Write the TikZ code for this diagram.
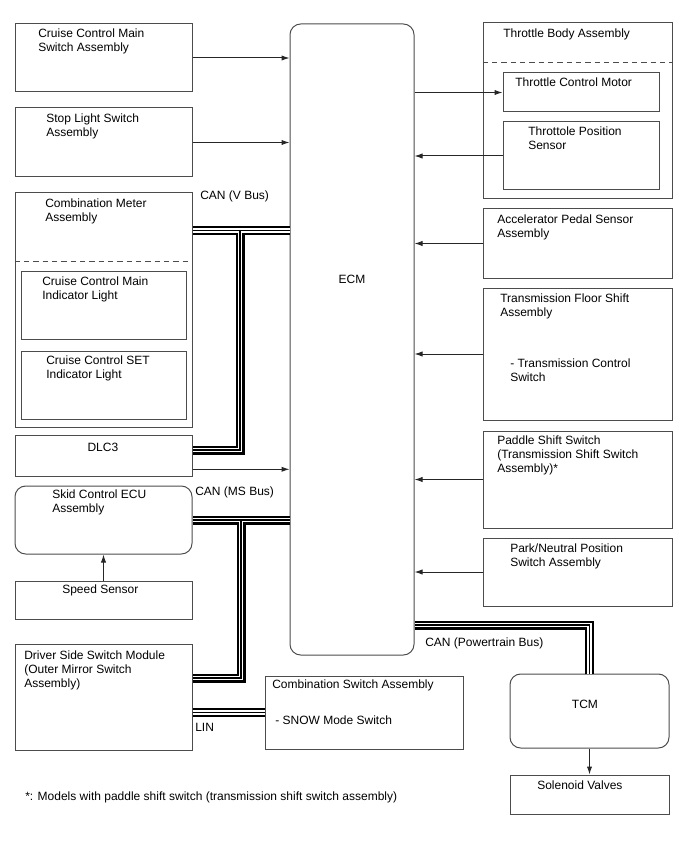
\documentclass[tikz,border=0pt]{standalone}
\usepackage{fontspec}
\setmainfont{Liberation Sans}
\usetikzlibrary{arrows.meta,fit}
\begin{document}
\begin{tikzpicture}[x=0.75pt,y=-0.75pt,
  box/.style={draw=black!70,line width=0.75pt,inner sep=0pt},
  rbox/.style={box,rounded corners=8pt},
  txt/.style={inner sep=0pt,anchor=north west,align=left,font=\fontsize{9}{10.5}\selectfont},
  arr/.style={draw=black!85,line width=0.75pt,-{Latex[length=6pt,width=4pt]}},
  dsh/.style={draw=black!70,line width=0.75pt,dash pattern=on 4pt off 3pt},
  cabA/.style={draw=black,line width=6.75pt,line join=miter},
  cabB/.style={draw=white,line width=3.6pt,line join=miter},
  cabC/.style={draw=black,line width=0.9pt,line join=miter}]
\useasboundingbox (0,0) rectangle (688,852);
% boxes
\node[box,fit={(15,24)(192,92)}] (ccm) {};
\node[box,fit={(15,108)(192,177)}] (stop) {};
\node[box,fit={(15,193)(192,427)}] (cm) {};
\node[box,fit={(21,271)(186,339)}] (cmi) {};
\node[box,fit={(21,351)(186,419)}] (csi) {};
\node[box,fit={(15,435)(192,476)}] (dlc) {};
\node[rbox,fit={(15,486)(192,554)}] (skid) {};
\node[box,fit={(15,581)(192,619)}] (spd) {};
\node[box,fit={(15,644)(192,750)}] (dss) {};
\node[box,fit={(265,676)(463,749)}] (csw) {};
\node[rbox,fit={(290,24)(414,655)}] (ecm) {};
\node[box,fit={(483,23)(672,199)}] (tba) {};
\node[box,fit={(503,73)(659,112)}] (tcmot) {};
\node[box,fit={(503,122)(659,190)}] (tps) {};
\node[box,fit={(483,209)(672,278)}] (aps) {};
\node[box,fit={(483,288)(672,420)}] (tfs) {};
\node[box,fit={(483,431)(672,528)}] (pss) {};
\node[box,fit={(483,538)(672,606)}] (pnp) {};
\node[rbox,fit={(510,674)(669,748)}] (tcm) {};
\node[box,fit={(510,775)(669,814)}] (sol) {};
% dashed separators
\draw[dsh] (cm.west |- 0,261) -- (cm.east |- 0,261);
\draw[dsh] (tba.west |- 0,62.7) -- (tba.east |- 0,62.7);
% texts
\node[txt] (t1) at (38,29) {Cruise Control Main\\Switch Assembly};
\node[txt] (t2) at (46,113.3) {Stop Light Switch\\Assembly};
\node[txt] (t3) at (45,198.3) {Combination Meter\\Assembly};
\node[txt] (t4) at (42,276.7) {Cruise Control Main\\Indicator Light};
\node[txt] (t5) at (46,356) {Cruise Control SET\\Indicator Light};
\node[txt] (t6) at (200,191) {CAN (V Bus)};
\node[txt] (t7) at (87.3,442.7) {DLC3};
\node[txt] (t8) at (195,486.7) {CAN (MS Bus)};
\node[txt] (t9) at (52,490) {Skid Control ECU\\Assembly};
\node[txt] (t10) at (62,585) {Speed Sensor};
\node[txt] (t11) at (24,651) {Driver Side Switch Module\\(Outer Mirror Switch\\Assembly)};
\node[txt] (t12) at (272,680) {Combination Switch Assembly};
\node[txt] (t13) at (275,716) {- SNOW Mode Switch};
\node[txt] (t14) at (195,723.3) {LIN};
\node[txt] (t15) at (25,791.7) {*: Models with paddle shift switch (transmission shift switch assembly)};
\node[txt] (t16) at (503,29) {Throttle Body Assembly};
\node[txt] (t17) at (515,77.7) {Throttle Control Motor};
\node[txt] (t18) at (528,126.7) {Throttole Position\\Sensor};
\node[txt] (t19) at (497,214.3) {Accelerator Pedal Sensor\\Assembly};
\node[txt] (t20) at (500,293.3) {Transmission Floor Shift\\Assembly};
\node[txt] (t21) at (510,358.3) {- Transmission Control\\Switch};
\node[txt] (t22) at (497,436) {Paddle Shift Switch\\(Transmission Shift Switch\\Assembly)*};
\node[txt] (t23) at (510,543.3) {Park/Neutral Position\\Switch Assembly};
\node[txt] (t24) at (425,637.3) {CAN (Powertrain Bus)};
\node[txt] (t25) at (571.7,700) {TCM};
\node[txt] (t26) at (537,780.7) {Solenoid Valves};
\node[txt,anchor=north] (t27) at (352,275) {ECM};
% arrows
\draw[arr] (ccm.east) -- (ccm.east -| ecm.west);
\draw[arr] (stop.east) -- (stop.east -| ecm.west);
\draw[arr] (dlc.east |- 0,469.3) -- (ecm.west |- 0,469.3);
\draw[arr] (ecm.east |- tcmot.west) -- (tcmot.west);
\draw[arr] (tps.west) -- (tps.west -| ecm.east);
\draw[arr] (aps.west) -- (aps.west -| ecm.east);
\draw[arr] (tfs.west) -- (tfs.west -| ecm.east);
\draw[arr] (pss.west) -- (pss.west -| ecm.east);
\draw[arr] (pnp.west) -- (pnp.west -| ecm.east);
\draw[arr] (spd.north) -- (spd.north |- skid.south);
\draw[arr] (tcm.south) -- (tcm.south |- sol.north);
% cables
\foreach \s in {cabA,cabB,cabC}{
  \draw[\s] (ecm.west |- 0,230.5) -- (cm.east |- 0,230.5)
            (240,230.5) -- (240,450) -- (dlc.east |- 0,450);
  \draw[\s] (ecm.west |- 0,520) -- (skid.east |- 0,520)
            (241,520) -- (241,678) -- (dss.east |- 0,678);
  \draw[\s] (dss.east |- 0,712.5) -- (csw.west |- 0,712.5);
  \draw[\s] (ecm.east |- 0,625) -- (tcm.north |- 0,625) -- (tcm.north);
}
\end{tikzpicture}
\end{document}
